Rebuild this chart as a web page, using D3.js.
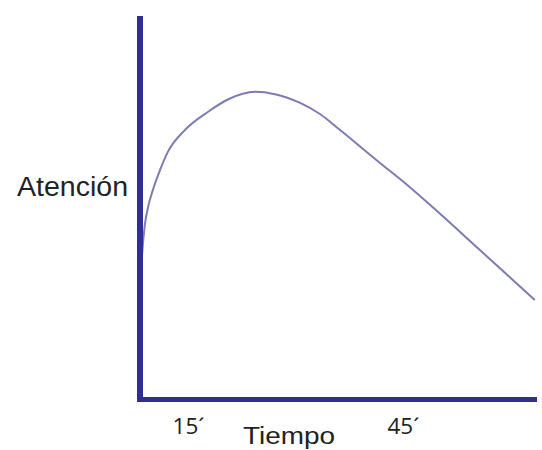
<!DOCTYPE html>
<html>
<head>
<meta charset="utf-8">
<script src="https://cdn.jsdelivr.net/npm/d3@7"></script>
<style>
  body { margin: 0; background: #fff; }
  svg { display: block; }
</style>
</head>
<body>
<div id="chart"></div>
<script>
// tiempo (escala relativa 0-100) y atención (0-100)
var tiempo   = [0, 0.5, 1.0, 1.8, 3.0, 4.8, 6.8, 11.1, 17.0, 22.0, 28.9, 33.9, 40.3, 45.3, 50.4, 60.5, 65.6, 75.7, 85.8, 99.7];
var atencion = [34.3, 40.8, 45.8, 50.3, 54.7, 59.9, 64.7, 70.4, 75.2, 78.4, 80.4, 79.8, 77.5, 74.6, 70.4, 61.8, 57.6, 48.5, 39.0, 25.9];
var tickPos    = [11.9, 66.3];
var tickLabels = ["15\u00b4", "45\u00b4"];

var width = 542, height = 450;
var margin = {top: 17, right: 6, bottom: 51, left: 141};

var svg = d3.select("#chart").append("svg")
    .attr("width", width)
    .attr("height", height);

var x = d3.scaleLinear().domain([0, 100]).range([margin.left, width - margin.right]);
var y = d3.scaleLinear().domain([0, 100]).range([height - margin.bottom, margin.top]);

var axisColor = "#2e2e94";

// curva
var line = d3.line()
    .x(function(d, i) { return x(tiempo[i]); })
    .y(function(d) { return y(d); })
    .curve(d3.curveMonotoneX);

svg.append("path")
    .datum(atencion)
    .attr("d", line)
    .attr("fill", "none")
    .attr("stroke", "#7c7cb4")
    .attr("stroke-width", 2);

// ejes gruesos
svg.append("line")
    .attr("x1", x(0) - 1).attr("x2", x(0) - 1)
    .attr("y1", y(100) - 1).attr("y2", y(0) + 3)
    .attr("stroke", axisColor)
    .attr("stroke-width", 6);

svg.append("line")
    .attr("x1", x(0) - 4).attr("x2", x(100) + 1)
    .attr("y1", y(0) + 0.5).attr("y2", y(0) + 0.5)
    .attr("stroke", axisColor)
    .attr("stroke-width", 5);

// etiquetas del eje x
var xAxis = svg.append("g")
    .attr("transform", "translate(0," + (y(0) + 0.5) + ")")
    .call(d3.axisBottom(x)
        .tickValues(tickPos)
        .tickSize(0)
        .tickFormat(function(d, i) { return tickLabels[i]; }));

xAxis.select(".domain").remove();
xAxis.selectAll(".tick text")
    .attr("y", 34.5)
    .attr("dy", 0)
    .attr("fill", "#222")
    .attr("font-family", "'Open Sans', sans-serif")
    .attr("font-size", 21)
    .attr("textLength", 32)
    .attr("lengthAdjust", "spacingAndGlyphs");

svg.append("text")
    .attr("x", 243)
    .attr("y", 443.5)
    .attr("fill", "#222")
    .attr("font-family", "'Liberation Sans', Arial, sans-serif")
    .attr("font-size", 23)
    .attr("textLength", 92)
    .attr("lengthAdjust", "spacingAndGlyphs")
    .text("Tiempo");

svg.append("text")
    .attr("x", 17)
    .attr("y", 196)
    .attr("fill", "#222")
    .attr("font-family", "'Liberation Sans', Arial, sans-serif")
    .attr("font-size", 27)
    .attr("textLength", 111)
    .attr("lengthAdjust", "spacingAndGlyphs")
    .text("Atención");
</script>
</body>
</html>
